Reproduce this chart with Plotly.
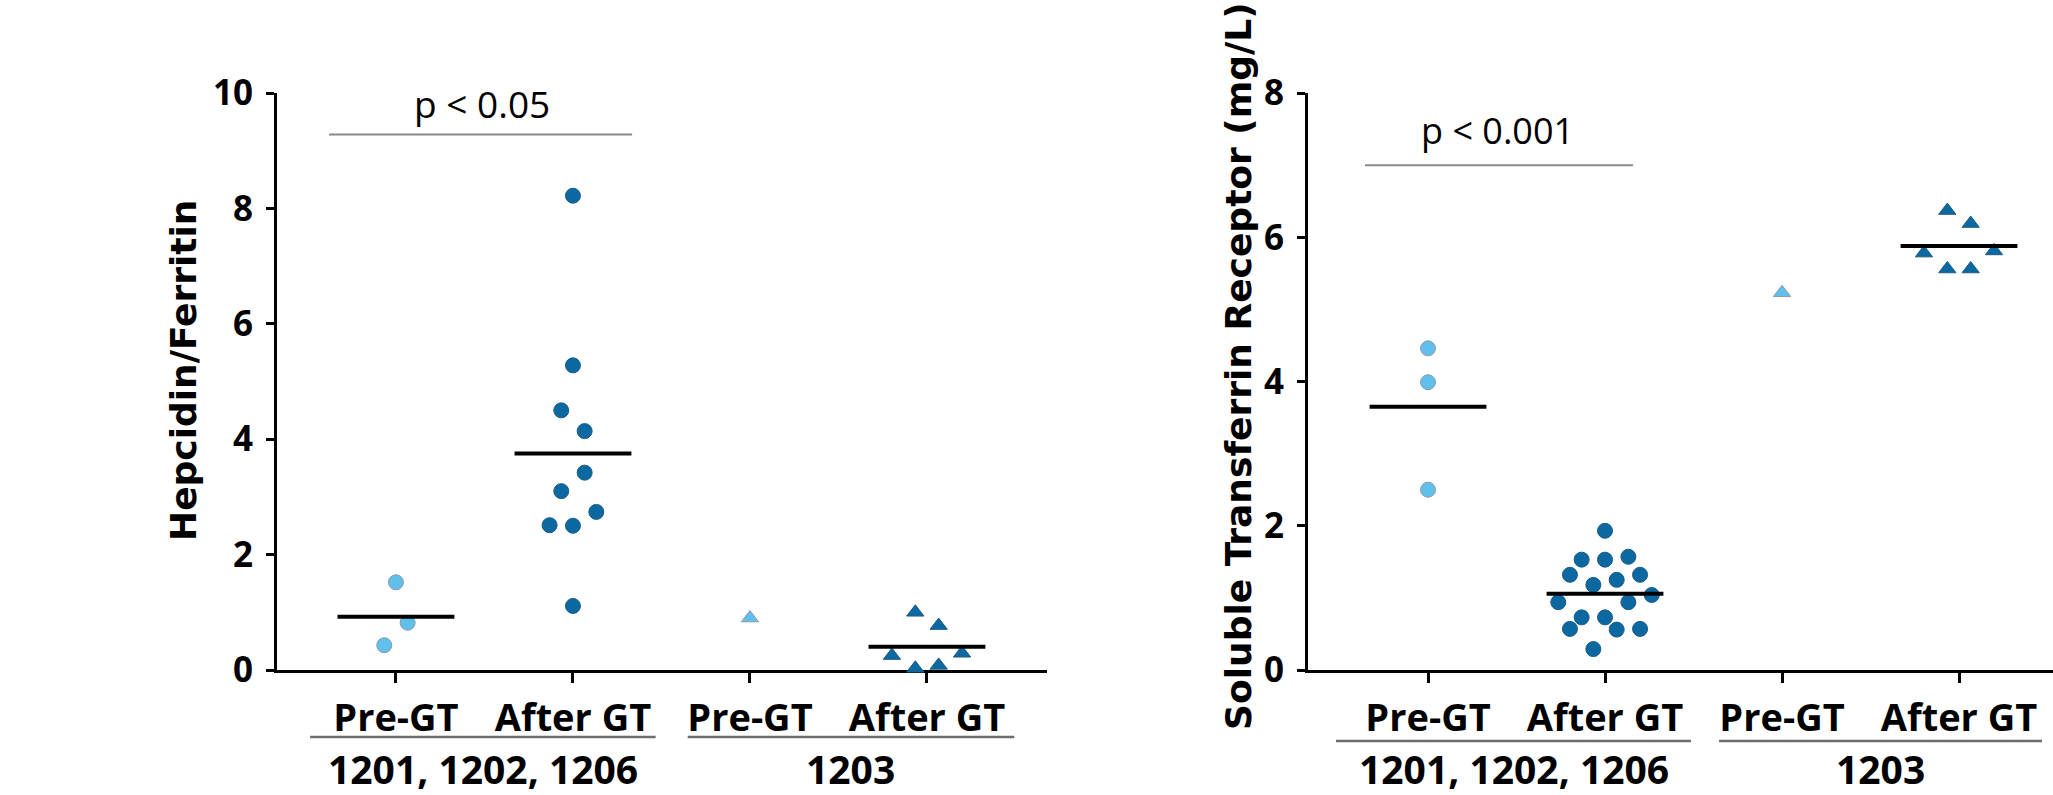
import numpy as np
import plotly.graph_objects as go

# ---------------- data ----------------
categories = ["Pre-GT", "After GT", "Pre-GT", "After GT"]
group_labels = ["1201, 1202, 1206", "1203"]

# Left panel: Hepcidin/Ferritin
hep_pre_1201 = [1.52, 0.82, 0.43]
hep_pre_1201_off = [0, 1, -1]
hep_after_1201 = [8.22, 5.28, 4.50, 4.14, 3.42, 3.10, 2.74, 2.51, 2.50, 1.11]
hep_after_1201_off = [0, 0, -1, 1, 1, -1, 2, -2, 0, 0]
hep_pre_1203 = [0.90]
hep_pre_1203_off = [0]
hep_after_1203 = [1.00, 0.77, 0.25, 0.29, 0.03, 0.08]
hep_after_1203_off = [-1, 1, -3, 3, -1, 1]

# Right panel: Soluble Transferrin Receptor (mg/L)
stfr_pre_1201 = [4.46, 3.99, 2.50]
stfr_pre_1201_off = [0, 0, 0]
stfr_after_1201 = [1.93, 1.53, 1.53, 1.57, 1.32, 1.25, 1.32, 1.18, 0.94, 0.94,
                   1.04, 0.73, 0.73, 0.57, 0.56, 0.57, 0.29]
stfr_after_1201_off = [0, -2, 0, 2, -3, 1, 3, -1, -4, 2, 4, -2, 0, -3, 1, 3, -1]
stfr_pre_1203 = [5.23]
stfr_pre_1203_off = [0]
stfr_after_1203 = [6.37, 6.19, 5.78, 5.81, 5.56, 5.56]
stfr_after_1203_off = [-1, 1, -3, 3, -1, 1]

# ---------------- style ----------------
W, H = 2053, 795
LIGHT = "#60BFEB"
DARK = "#0C68A1"
OFF_UNIT = 0.066
MEAN_HALF = 0.33
TICK_FONT = dict(family="Open Sans", size=35, color="black", weight="bold")
CAT_FONT = dict(family="Open Sans", size=38, color="black", weight="bold")
TITLE_FONT = dict(family="DejaVu Sans", size=36, color="black", weight="bold")
P_FONT = dict(family="Open Sans", size=37, color="black")

fig = go.Figure()


def add_group(vals, offs, pos, color, symbol, xa, ya, outline):
    x = [pos + o * OFF_UNIT for o in offs]
    size = 15
    fig.add_trace(go.Scatter(
        x=x, y=vals, mode="markers", xaxis=xa, yaxis=ya, cliponaxis=False,
        marker=dict(color=color, symbol=symbol, size=size,
                    line=dict(color=outline, width=1)),
        showlegend=False, hoverinfo="y"))
    if len(vals) > 1:
        m = float(np.mean(vals))
        fig.add_trace(go.Scatter(
            x=[pos - MEAN_HALF, pos + MEAN_HALF], y=[m, m], mode="lines",
            xaxis=xa, yaxis=ya, cliponaxis=False,
            line=dict(color="black", width=4), showlegend=False, hoverinfo="skip"))


# left panel
add_group(hep_pre_1201, hep_pre_1201_off, 0, LIGHT, "circle", "x", "y", "#8A9BA8")
add_group(hep_after_1201, hep_after_1201_off, 1, DARK, "circle", "x", "y", "#1D5C85")
add_group(hep_pre_1203, hep_pre_1203_off, 2, LIGHT, "triangle-up", "x", "y", "#8A9BA8")
add_group(hep_after_1203, hep_after_1203_off, 3, DARK, "triangle-up", "x", "y", "#1D5C85")
# right panel
add_group(stfr_pre_1201, stfr_pre_1201_off, 0, LIGHT, "circle", "x2", "y2", "#8A9BA8")
add_group(stfr_after_1201, stfr_after_1201_off, 1, DARK, "circle", "x2", "y2", "#1D5C85")
add_group(stfr_pre_1203, stfr_pre_1203_off, 2, LIGHT, "triangle-up", "x2", "y2", "#8A9BA8")
add_group(stfr_after_1203, stfr_after_1203_off, 3, DARK, "triangle-up", "x2", "y2", "#1D5C85")

ydom = [125 / H, 702 / H]
common_x = dict(tickvals=[0, 1, 2, 3], ticktext=categories, showgrid=False, zeroline=False,
                showline=True, linecolor="black", linewidth=3, ticks="outside", ticklen=10,
                tickwidth=3, tickcolor="black", tickfont=CAT_FONT, layer="below traces",
                ticklabelstandoff=2, fixedrange=True, automargin=False)
common_y = dict(showgrid=False, zeroline=False, showline=True, linecolor="black", linewidth=3,
                ticks="outside", ticklen=8, tickwidth=3, tickcolor="black", tickfont=TICK_FONT,
                layer="below traces", dtick=2, tick0=0, ticklabelstandoff=6, fixedrange=True,
                automargin=False)

fig.update_layout(
    width=W, height=H, margin=dict(l=0, r=0, t=0, b=0, autoexpand=False),
    paper_bgcolor="white", plot_bgcolor="white", showlegend=False,
    xaxis=dict(domain=[277 / W, 1047 / W], range=[-0.672, 3.678], anchor="y", **common_x),
    yaxis=dict(domain=ydom, range=[0, 10], anchor="x", **common_y),
    xaxis2=dict(domain=[1308 / W, 1.0], range=[-0.678, 3.531], anchor="y2", **common_x),
    yaxis2=dict(domain=ydom, range=[0, 8], anchor="x2", **common_y),
)

annotations = []
shapes = []

# y-axis titles
annotations.append(dict(text="Hepcidin/Ferritin", x=183 / W, y=(H - 371) / H, xref="paper",
                        yref="paper", textangle=-90, showarrow=False, font=TITLE_FONT,
                        xanchor="center", yanchor="middle"))
annotations.append(dict(text="Soluble Transferrin Receptor (mg/L)", x=1238 / W, y=(H - 366) / H,
                        xref="paper", yref="paper", textangle=-90, showarrow=False,
                        font=TITLE_FONT, xanchor="center", yanchor="middle"))

# p-value brackets
annotations.append(dict(text="p < 0.05", x=0.486, y=9.81, xref="x", yref="y", showarrow=False,
                        font=P_FONT, xanchor="center", yanchor="middle"))
shapes.append(dict(type="line", x0=-0.378, x1=1.334, y0=9.28, y1=9.28, xref="x", yref="y",
                   line=dict(color="#8A8A8A", width=2)))
annotations.append(dict(text="p < 0.001", x=0.395, y=7.48, xref="x2", yref="y2", showarrow=False,
                        font=dict(family="Open Sans", size=36, color="black"),
                        xanchor="center", yanchor="middle"))
shapes.append(dict(type="line", x0=-0.356, x1=1.158, y0=7.0, y1=7.0, xref="x2", yref="y2",
                   line=dict(color="#8A8A8A", width=2)))

# group underlines and labels
for xa, lines, yline in (("x", [(-0.485, 1.467), (1.648, 3.493)], 737),
                         ("x2", [(-0.52, 1.486), (1.644, 3.469)], 741)):
    for (a, b), lab in zip(lines, group_labels):
        shapes.append(dict(type="line", x0=a, x1=b, y0=(H - yline) / H, y1=(H - yline) / H,
                           xref=xa, yref="paper", line=dict(color="#6E6E6E", width=2.5)))
        annotations.append(dict(text=lab, x=(a + b) / 2, y=(H - 768) / H, xref=xa, yref="paper",
                                showarrow=False, font=dict(family="Open Sans", size=39,
                                                           color="black", weight="bold"),
                                xanchor="center", yanchor="middle"))

fig.update_layout(annotations=annotations, shapes=shapes)
fig.write_html(
    "out.html",
    config={"displayModeBar": False},
    post_script="document.body.style.margin='0';document.body.style.overflow='hidden';",
)
